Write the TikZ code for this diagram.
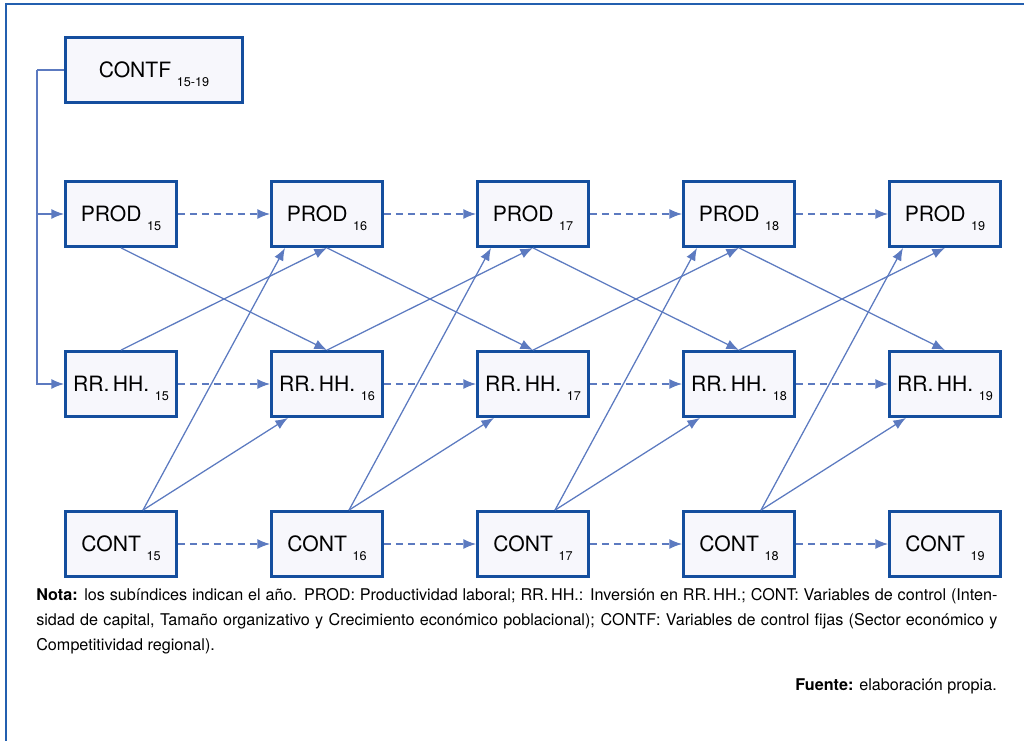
\documentclass[tikz,border=0pt]{standalone}
\usepackage{fontspec}
\setmainfont{TeX Gyre Heros}
\usetikzlibrary{arrows.meta}

\definecolor{boxblue}{RGB}{20,78,158}
\definecolor{boxfill}{RGB}{247,247,252}
\definecolor{arrblue}{RGB}{92,122,192}
\definecolor{frameblue}{RGB}{35,95,175}

\newcommand{\varlab}[2]{#1\hspace{4pt}\raisebox{-6pt}{\fontsize{9}{9}\selectfont #2}}

\begin{document}
\begin{tikzpicture}[x=0.025cm, y=-0.025cm,
	varbox/.style={draw=boxblue, fill=boxfill, line width=2pt, minimum width=2.775cm, minimum height=1.625cm,
		inner sep=0pt, text height=10.8pt, text depth=0pt, font=\fontsize{15}{15}\selectfont},
	link/.style={draw=arrblue, line width=0.9pt, -{Latex[length=9pt,width=7pt]}},
	dlink/.style={link, dash pattern=on 5pt off 3.5pt}]
	\useasboundingbox (0,0) rectangle (1024,741);
	%frame
		\draw[frameblue, line width=1.6pt] (6,745) -- (6,4) -- (1030,4);
	%CONTF
		\node[varbox, minimum width=4.425cm] (CF) at (154,70) {\varlab{CONTF}{15-19}};
	%PROD
		\node[varbox] (P15) at (121,214) {\varlab{PROD}{15}};
		\node[varbox] (P16) at (327,214) {\varlab{PROD}{16}};
		\node[varbox] (P17) at (533,214) {\varlab{PROD}{17}};
		\node[varbox] (P18) at (739,214) {\varlab{PROD}{18}};
		\node[varbox] (P19) at (945,214) {\varlab{PROD}{19}};
	%RR.HH.
		\node[varbox] (R15) at (121,384) {\varlab{RR.\,HH.}{15}};
		\node[varbox] (R16) at (327,384) {\varlab{RR.\,HH.}{16}};
		\node[varbox] (R17) at (533,384) {\varlab{RR.\,HH.}{17}};
		\node[varbox] (R18) at (739,384) {\varlab{RR.\,HH.}{18}};
		\node[varbox] (R19) at (945,384) {\varlab{RR.\,HH.}{19}};
	%CONT
		\node[varbox] (C15) at (121,544) {\varlab{CONT}{15}};
		\node[varbox] (C16) at (327,544) {\varlab{CONT}{16}};
		\node[varbox] (C17) at (533,544) {\varlab{CONT}{17}};
		\node[varbox] (C18) at (739,544) {\varlab{CONT}{18}};
		\node[varbox] (C19) at (945,544) {\varlab{CONT}{19}};
	%CONTF->PROD 15, RR.HH. 15
		\coordinate (split) at (37,70);
		\draw[link, -] (CF.west) -- (split);
		\draw[link] (split) |- (R15.west);
		\draw[link] (split |- P15.west) -- (P15.west);
	%PROD->PROD
		\draw[dlink] (P15) -- (P16);
		\draw[dlink] (P16) -- (P17);
		\draw[dlink] (P17) -- (P18);
		\draw[dlink] (P18) -- (P19);
	%RR.HH.->RR.HH.
		\draw[dlink] (R15) -- (R16);
		\draw[dlink] (R16) -- (R17);
		\draw[dlink] (R17) -- (R18);
		\draw[dlink] (R18) -- (R19);
	%CONT->CONT
		\draw[dlink] (C15) -- (C16);
		\draw[dlink] (C16) -- (C17);
		\draw[dlink] (C17) -- (C18);
		\draw[dlink] (C18) -- (C19);
	%PROD->RR.HH. (next year)
		\draw[link] (P15.south) -- (R16.north);
		\draw[link] (P16.south) -- (R17.north);
		\draw[link] (P17.south) -- (R18.north);
		\draw[link] (P18.south) -- (R19.north);
	%RR.HH.->PROD (next year)
		\draw[link] (R15.north) -- (P16.south);
		\draw[link] (R16.north) -- (P17.south);
		\draw[link] (R17.north) -- (P18.south);
		\draw[link] (R18.north) -- (P19.south);
	%CONT->PROD, RR.HH. (next year)
		\draw[link] ([xshift=0.55cm]C15.north) -- ([xshift=-1.05cm]P16.south);
		\draw[link] ([xshift=0.55cm]C15.north) -- ([xshift=-0.975cm]R16.south);
		\draw[link] ([xshift=0.55cm]C16.north) -- ([xshift=-1.05cm]P17.south);
		\draw[link] ([xshift=0.55cm]C16.north) -- ([xshift=-0.975cm]R17.south);
		\draw[link] ([xshift=0.55cm]C17.north) -- ([xshift=-1.05cm]P18.south);
		\draw[link] ([xshift=0.55cm]C17.north) -- ([xshift=-0.975cm]R18.south);
		\draw[link] ([xshift=0.55cm]C18.north) -- ([xshift=-1.05cm]P19.south);
		\draw[link] ([xshift=0.55cm]C18.north) -- ([xshift=-0.975cm]R19.south);
	%Nota
		\node[anchor=north west, inner sep=0pt, text width=24.025cm, align=justify,
			font=\fontsize{11.5}{17.7}\selectfont] (nota) at (36,588)
			{\textbf{Nota:} los subíndices indican el año. PROD: Productividad laboral; RR.\,HH.: Inversión en RR.\,HH.; CONT: Variables de control (Inten-\linebreak
			sidad de capital, Tamaño organizativo y Crecimiento económico poblacional); CONTF: Variables de control fijas (Sector económico y\linebreak
			Competitividad regional).};
	%Fuente
		\node[anchor=base east, inner sep=0pt, font=\fontsize{11.5}{12}\selectfont] (fuente) at (997,690)
			{\textbf{Fuente:} elaboración propia.};
\end{tikzpicture}
\end{document}
